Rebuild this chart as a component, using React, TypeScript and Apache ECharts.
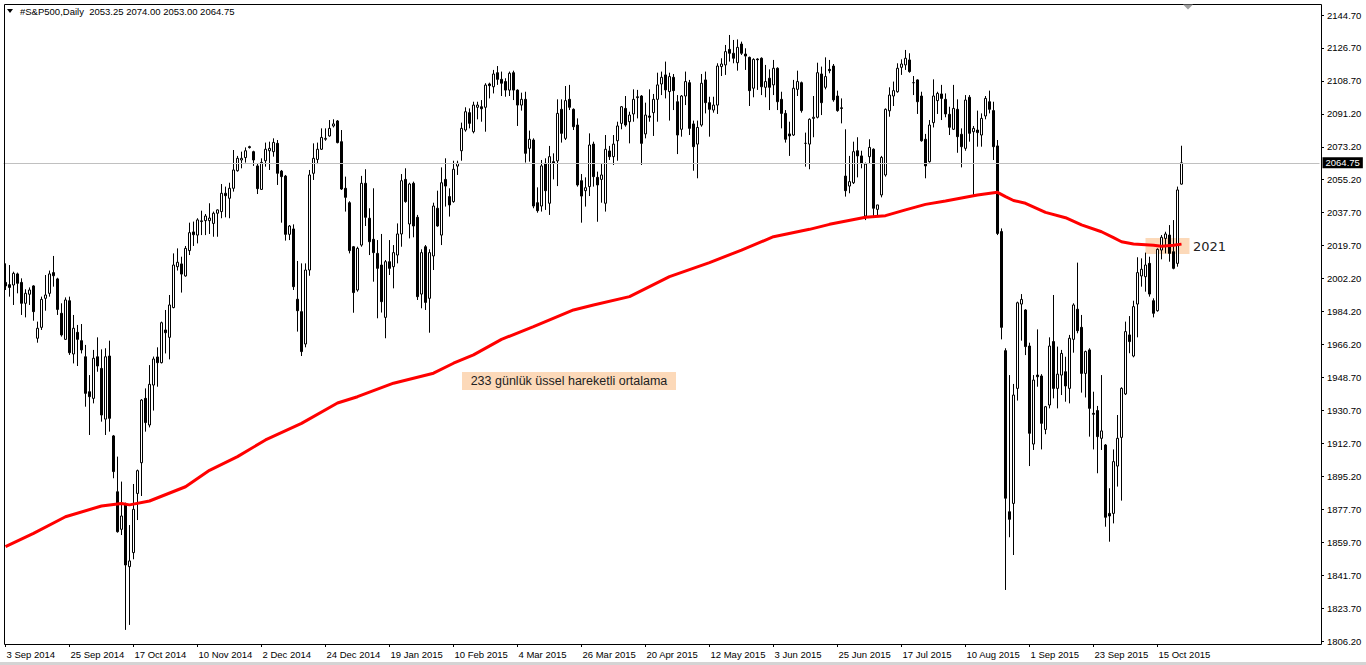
import React, { useEffect, useRef } from "react";
import * as echarts from "echarts";

// Daily candles, each row: [open, high, low, close]
const candles: number[][] = [
  [2000.1, 2010.4, 1996.0, 1998.2], [1998.9, 2009.5, 1992.4, 1997.4], [1998.7, 2005.9, 1987.9, 2005.0], [2004.7, 2005.4, 1994.2, 1999.6],
  [2000.1, 2002.3, 1982.5, 1988.8], [1988.8, 1996.4, 1981.2, 1994.2], [1993.7, 1997.4, 1987.9, 1996.0], [1998.2, 1998.6, 1979.4, 1984.3],
  [1969.9, 1978.9, 1967.5, 1975.3], [1975.8, 1992.4, 1974.4, 1990.9], [1991.5, 2004.1, 1984.8, 1993.3], [1994.2, 2006.5, 1992.4, 2004.7],
  [2005.4, 2014.4, 1997.8, 2003.7], [2002.0, 2002.6, 1982.5, 1985.5], [1983.4, 1988.8, 1970.8, 1971.7], [1969.3, 1992.0, 1969.0, 1990.6],
  [1990.2, 1992.4, 1960.9, 1962.1], [1961.4, 1982.5, 1956.3, 1975.3], [1973.1, 1977.1, 1954.9, 1969.3], [1968.6, 1977.6, 1961.7, 1963.6],
  [1959.9, 1966.3, 1932.9, 1940.1], [1941.0, 1950.0, 1917.6, 1938.3], [1937.4, 1963.6, 1934.7, 1959.1], [1959.9, 1970.4, 1951.8, 1954.9],
  [1953.6, 1963.9, 1924.8, 1928.4], [1926.2, 1964.5, 1917.6, 1959.9], [1960.3, 1968.6, 1919.4, 1926.6], [1917.1, 1917.6, 1894.2, 1897.8],
  [1886.9, 1905.9, 1864.8, 1865.3], [1866.6, 1892.4, 1863.5, 1873.8], [1879.8, 1881.0, 1812.2, 1847.3], [1846.4, 1868.9, 1814.9, 1849.5],
  [1854.0, 1891.1, 1850.4, 1877.4], [1886.0, 1898.9, 1871.6, 1898.3], [1902.6, 1937.0, 1884.6, 1936.5], [1937.4, 1942.8, 1919.4, 1924.3],
  [1923.0, 1955.4, 1921.7, 1945.0], [1944.6, 1960.0, 1930.8, 1958.7], [1959.8, 1965.0, 1943.7, 1956.7], [1956.7, 1978.9, 1956.3, 1978.3],
  [1974.4, 1985.2, 1961.7, 1972.9], [1970.4, 1993.3, 1958.5, 1987.9], [1986.5, 2015.8, 1986.1, 2009.5], [2008.6, 2018.5, 2006.5, 2011.0],
  [2010.1, 2014.0, 1994.6, 2004.6], [2003.6, 2019.8, 2003.2, 2018.5], [2017.3, 2032.4, 2014.9, 2027.0], [2027.4, 2033.0, 2019.8, 2025.9],
  [2025.7, 2034.8, 2021.2, 2033.9], [2033.0, 2038.9, 2025.7, 2033.4], [2033.5, 2037.1, 2025.7, 2036.0], [2033.5, 2042.9, 2026.3, 2034.9],
  [2032.0, 2038.4, 2024.8, 2037.5], [2037.5, 2039.6, 2024.8, 2039.3], [2038.4, 2053.3, 2034.8, 2048.3], [2048.3, 2051.9, 2035.3, 2047.0],
  [2045.6, 2054.0, 2034.8, 2051.0], [2051.0, 2071.7, 2049.2, 2060.9], [2060.5, 2068.5, 2060.0, 2067.2], [2066.3, 2070.8, 2061.8, 2067.2],
  [2067.6, 2073.1, 2064.9, 2071.3], [2073.5, 2074.0, 2072.5, 2073.0], [2070.8, 2071.3, 2063.1, 2066.3], [2063.1, 2064.5, 2047.9, 2050.8],
  [2050.4, 2067.2, 2050.1, 2065.0], [2065.9, 2075.7, 2062.7, 2072.1], [2071.3, 2076.2, 2060.9, 2072.6], [2070.8, 2078.0, 2068.1, 2075.8],
  [2075.3, 2077.1, 2052.8, 2059.1], [2060.3, 2060.9, 2032.4, 2057.3], [2057.6, 2058.2, 2022.7, 2026.1], [2026.1, 2031.1, 2023.0, 2030.6],
  [2029.0, 2031.5, 1996.0, 1997.8], [1991.0, 2011.7, 1973.5, 1984.8], [1984.3, 2010.4, 1960.3, 1962.7], [1966.8, 2010.4, 1965.0, 2006.8],
  [2006.8, 2060.9, 2003.7, 2058.2], [2059.1, 2075.3, 2055.5, 2067.2], [2066.6, 2075.7, 2064.1, 2072.1], [2072.1, 2083.4, 2071.7, 2078.5],
  [2077.5, 2083.4, 2076.7, 2078.0], [2079.3, 2087.9, 2078.9, 2083.4], [2084.7, 2088.3, 2083.9, 2085.8], [2087.4, 2087.9, 2075.3, 2075.7],
  [2076.2, 2082.5, 2050.1, 2050.6], [2051.0, 2057.3, 2038.4, 2046.1], [2043.2, 2044.0, 2015.8, 2017.3], [2019.4, 2019.8, 1983.7, 1994.6],
  [1996.0, 2019.4, 1995.1, 2018.5], [2020.3, 2057.7, 2019.4, 2053.7], [2053.7, 2061.3, 2030.6, 2035.3], [2034.8, 2040.2, 2014.9, 2022.1],
  [2023.4, 2051.0, 2000.5, 2016.2], [2015.8, 2023.0, 1980.7, 2007.7], [2009.5, 2026.3, 1983.8, 1989.7], [1981.2, 2012.2, 1969.9, 2011.3],
  [2011.3, 2023.0, 2004.1, 2007.7], [2008.6, 2020.3, 1996.9, 2016.2], [2014.9, 2032.0, 2010.4, 2026.3], [2026.3, 2058.7, 2019.4, 2055.1],
  [2055.8, 2061.8, 2043.2, 2043.8], [2031.7, 2054.0, 2023.9, 2053.3], [2053.7, 2054.6, 2024.5, 2030.6], [2035.3, 2036.6, 1990.6, 1992.4],
  [1993.8, 2018.0, 1986.1, 2016.2], [2019.4, 2020.3, 1985.2, 1989.3], [1991.5, 2018.0, 1972.9, 2016.2], [2014.4, 2043.2, 2006.8, 2041.4],
  [2040.2, 2049.7, 2030.2, 2030.6], [2025.7, 2062.3, 2020.3, 2054.0], [2055.8, 2067.2, 2041.1, 2052.2], [2046.5, 2051.0, 2035.7, 2042.0],
  [2043.8, 2065.9, 2043.2, 2061.3], [2063.0, 2065.9, 2058.2, 2064.5], [2071.3, 2086.5, 2065.9, 2083.4], [2082.5, 2094.8, 2081.6, 2092.4],
  [2091.9, 2094.2, 2083.4, 2086.1], [2081.6, 2097.8, 2080.7, 2096.0], [2094.8, 2097.8, 2088.3, 2096.0], [2095.1, 2098.7, 2087.0, 2094.0],
  [2094.8, 2107.8, 2081.6, 2106.8], [2107.4, 2108.1, 2099.6, 2106.5], [2105.9, 2115.0, 2102.3, 2112.8], [2113.5, 2117.1, 2106.9, 2109.9],
  [2109.9, 2114.1, 2100.9, 2107.8], [2108.7, 2110.5, 2100.5, 2104.1], [2104.1, 2114.1, 2100.9, 2113.2], [2113.5, 2114.6, 2098.7, 2104.1],
  [2104.1, 2104.5, 2084.7, 2096.0], [2096.0, 2102.7, 2093.0, 2099.1], [2099.1, 2103.2, 2064.9, 2069.9], [2072.6, 2082.2, 2065.4, 2077.5],
  [2077.1, 2078.0, 2040.2, 2041.4], [2043.2, 2051.5, 2037.8, 2038.9], [2041.4, 2066.3, 2038.4, 2063.1], [2064.5, 2067.2, 2039.3, 2049.7],
  [2042.9, 2073.9, 2036.6, 2068.1], [2065.4, 2069.9, 2055.8, 2064.5], [2065.8, 2099.1, 2052.2, 2091.5], [2093.7, 2099.1, 2075.7, 2080.7],
  [2078.0, 2106.3, 2077.1, 2098.4], [2099.1, 2106.9, 2093.3, 2094.8], [2093.7, 2094.2, 2082.5, 2084.3], [2085.2, 2088.8, 2051.9, 2052.8],
  [2055.1, 2058.7, 2032.4, 2046.8], [2049.7, 2056.9, 2041.1, 2051.3], [2051.9, 2080.7, 2046.8, 2074.4], [2074.9, 2076.2, 2051.9, 2057.3],
  [2056.9, 2060.0, 2032.9, 2052.8], [2055.8, 2064.1, 2043.2, 2058.2], [2042.9, 2079.8, 2038.4, 2072.1], [2071.2, 2073.9, 2066.3, 2068.1],
  [2068.1, 2079.8, 2063.6, 2074.9], [2076.7, 2087.0, 2065.9, 2084.7], [2086.1, 2095.5, 2082.9, 2095.1], [2094.2, 2100.9, 2084.3, 2085.2],
  [2087.0, 2092.4, 2075.3, 2090.6], [2091.2, 2104.5, 2087.0, 2099.1], [2100.0, 2104.2, 2088.8, 2100.5], [2100.9, 2101.4, 2063.6, 2075.3],
  [2080.4, 2097.3, 2078.0, 2090.6], [2090.1, 2104.5, 2087.0, 2089.4], [2091.9, 2102.0, 2079.3, 2099.1], [2099.1, 2113.5, 2087.0, 2106.9],
  [2107.4, 2114.1, 2101.4, 2111.0], [2112.3, 2119.5, 2099.6, 2104.2], [2103.3, 2113.5, 2087.6, 2111.4], [2111.0, 2112.8, 2093.3, 2103.8],
  [2097.8, 2101.4, 2069.5, 2079.8], [2082.9, 2101.4, 2078.9, 2100.9], [2100.9, 2114.1, 2096.0, 2108.7], [2108.1, 2109.6, 2079.8, 2083.4],
  [2085.8, 2087.6, 2060.5, 2073.5], [2074.9, 2087.6, 2056.4, 2083.9], [2085.2, 2112.8, 2084.3, 2107.8], [2109.6, 2114.1, 2091.5, 2097.3],
  [2097.3, 2100.5, 2078.9, 2093.7], [2093.3, 2100.5, 2091.9, 2096.0], [2096.0, 2118.6, 2091.2, 2117.1], [2116.8, 2121.3, 2111.7, 2118.2],
  [2117.7, 2128.5, 2112.3, 2124.9], [2126.1, 2133.9, 2119.5, 2124.0], [2124.0, 2131.2, 2118.6, 2121.3], [2118.9, 2131.5, 2114.6, 2127.2],
  [2129.0, 2130.3, 2123.1, 2124.0], [2123.6, 2126.7, 2115.0, 2122.5], [2121.8, 2122.2, 2095.5, 2103.8], [2105.1, 2121.3, 2100.2, 2120.7],
  [2120.9, 2121.3, 2104.2, 2120.5], [2121.3, 2121.8, 2101.4, 2105.9], [2105.6, 2117.7, 2100.2, 2108.7], [2110.5, 2115.3, 2093.3, 2105.6],
  [2106.9, 2120.4, 2101.4, 2115.9], [2115.9, 2116.4, 2093.3, 2097.8], [2099.1, 2103.2, 2083.4, 2091.5], [2091.5, 2093.3, 2075.7, 2077.5],
  [2080.4, 2087.0, 2068.5, 2079.3], [2079.8, 2109.6, 2079.3, 2105.1], [2104.5, 2114.6, 2100.9, 2108.7], [2108.1, 2108.7, 2091.9, 2093.0],
  [2075.3, 2081.1, 2062.7, 2075.3], [2074.9, 2088.8, 2061.3, 2088.3], [2088.8, 2100.9, 2078.6, 2089.4], [2089.4, 2118.9, 2088.8, 2113.5],
  [2112.8, 2116.8, 2090.6, 2097.3], [2105.6, 2121.8, 2104.5, 2111.4], [2115.3, 2120.4, 2113.2, 2114.6], [2117.1, 2118.2, 2097.8, 2098.8],
  [2100.9, 2103.8, 2092.4, 2093.0], [2094.5, 2099.6, 2086.1, 2094.2], [2057.6, 2082.9, 2046.5, 2049.7], [2052.2, 2068.5, 2048.3, 2054.6],
  [2054.0, 2076.2, 2053.3, 2070.8], [2071.3, 2078.6, 2056.9, 2068.5], [2068.5, 2071.3, 2061.8, 2064.5], [2036.0, 2064.9, 2033.8, 2064.1],
  [2068.1, 2077.5, 2064.1, 2073.1], [2072.1, 2072.6, 2035.6, 2040.2], [2039.6, 2042.0, 2035.6, 2042.0], [2047.4, 2068.5, 2046.1, 2067.7],
  [2058.2, 2094.2, 2057.3, 2093.7], [2092.9, 2105.6, 2089.7, 2101.4], [2100.9, 2108.7, 2095.5, 2103.8], [2103.2, 2118.6, 2102.7, 2115.9],
  [2116.4, 2120.7, 2112.3, 2118.2], [2117.7, 2125.8, 2115.0, 2121.3], [2120.4, 2124.0, 2113.5, 2114.1], [2108.1, 2111.7, 2101.4, 2108.1],
  [2109.6, 2109.9, 2091.2, 2097.8], [2100.9, 2103.2, 2076.2, 2076.7], [2077.5, 2080.4, 2056.4, 2063.1], [2065.4, 2087.9, 2064.9, 2085.2],
  [2086.5, 2109.9, 2083.9, 2100.9], [2098.4, 2103.2, 2091.2, 2102.3], [2102.0, 2106.9, 2087.9, 2099.6], [2099.1, 2102.3, 2089.4, 2091.2],
  [2091.0, 2095.1, 2079.8, 2084.0], [2082.9, 2106.9, 2082.5, 2094.2], [2093.7, 2099.1, 2070.2, 2078.9], [2080.2, 2083.4, 2062.3, 2073.5],
  [2072.6, 2101.4, 2071.3, 2098.7], [2100.2, 2101.4, 2076.2, 2080.7], [2081.6, 2084.7, 2047.4, 2083.4], [2082.5, 2093.0, 2073.5, 2081.1],
  [2079.8, 2091.5, 2073.5, 2088.8], [2090.1, 2100.9, 2088.3, 2099.6], [2097.8, 2103.8, 2091.5, 2093.7], [2093.0, 2097.8, 2066.3, 2073.5],
  [2073.9, 2077.1, 2025.7, 2026.6], [2027.6, 2029.3, 1969.3, 1975.8], [1963.2, 1964.5, 1833.8, 1883.4], [1876.1, 1950.0, 1862.3, 1872.0],
  [1880.6, 1945.2, 1852.7, 1939.2], [1942.8, 1989.7, 1936.2, 1989.1], [1988.4, 1993.8, 1968.6, 1990.9], [1985.2, 1985.6, 1960.8, 1965.4],
  [1965.7, 1967.5, 1900.8, 1918.5], [1912.7, 1950.0, 1909.5, 1947.3], [1950.0, 1974.7, 1943.7, 1949.1], [1949.5, 1950.5, 1909.8, 1923.9],
  [1920.6, 1933.3, 1918.0, 1932.9], [1933.8, 1970.4, 1932.0, 1965.7], [1968.1, 1993.3, 1937.4, 1942.8], [1942.8, 1965.4, 1932.0, 1950.5],
  [1950.0, 1963.6, 1939.2, 1961.7], [1951.8, 1959.9, 1935.6, 1944.1], [1942.8, 1971.7, 1934.7, 1969.9], [1969.3, 1988.8, 1962.1, 1987.9],
  [1985.6, 2010.8, 1972.6, 1974.0], [1975.8, 1982.5, 1940.5, 1950.9], [1950.9, 1963.2, 1937.9, 1962.7], [1963.6, 1964.5, 1916.7, 1932.0],
  [1929.3, 1941.0, 1909.8, 1928.8], [1930.8, 1933.3, 1896.9, 1916.7], [1915.8, 1950.0, 1909.5, 1919.8], [1912.2, 1912.7, 1868.0, 1873.1],
  [1875.2, 1888.8, 1859.9, 1873.8], [1875.2, 1909.8, 1869.8, 1903.2], [1900.8, 1928.4, 1889.7, 1915.8], [1916.3, 1943.4, 1882.1, 1942.8],
  [1939.8, 1978.9, 1939.2, 1973.5], [1971.7, 1981.9, 1961.8, 1968.1], [1960.3, 1990.2, 1959.6, 1987.0], [1988.4, 2013.7, 1970.4, 2005.4],
  [2003.6, 2013.1, 1997.8, 2007.2], [2003.2, 2016.2, 1995.1, 2009.5], [2010.4, 2014.0, 1992.4, 1993.8], [1990.2, 1991.5, 1981.2, 1983.4],
  [1984.8, 2018.5, 1984.3, 2018.0], [2017.6, 2025.7, 2012.6, 2024.5], [2023.9, 2027.5, 2015.8, 2026.3], [2025.7, 2031.1, 2011.3, 2015.8],
  [2016.7, 2033.8, 2007.2, 2007.7], [2010.4, 2051.9, 2008.6, 2050.1], [2053.25, 2074.0, 2053.0, 2064.75],
];

// 233-day EMA: [bar index, value]
const emaPoints: number[][] = [
  [0, 1857.2], [7, 1864.4], [15, 1873.4], [24, 1879.2], [29, 1880.6], [31, 1879.8], [36, 1881.9], [45, 1889.6],
  [51, 1898.5], [58, 1905.9], [65, 1914.9], [74, 1923.9], [83, 1934.9], [88, 1938.3], [97, 1945.6], [107, 1951.0],
  [112, 1956.4], [117, 1960.9], [124, 1969.3], [132, 1976.2], [142, 1985.2], [147, 1987.9], [156, 1992.4], [166, 2003.2],
  [176, 2010.8], [184, 2017.6], [192, 2024.8], [201, 2028.8], [206, 2031.5], [215, 2035.3], [220, 2036.2], [225, 2039.3],
  [230, 2042.3], [235, 2044.1], [243, 2047.4], [248, 2048.8], [250, 2046.5], [252, 2044.4], [255, 2042.9], [260, 2038.0],
  [265, 2035.1], [269, 2031.2], [274, 2027.5], [277, 2024.3], [279, 2022.1], [282, 2020.9], [287, 2020.2], [289, 2019.6],
  [292, 2020.2], [294, 2020.8],
];

const yTickLabels = [
  "1806.20", "1823.70", "1841.70", "1859.70", "1877.70", "1895.20", "1912.70", "1930.70", "1948.70", "1966.20",
  "1984.20", "2002.20", "2019.70", "2037.70", "2055.20", "2073.20", "2091.20", "2108.70", "2126.70", "2144.70",
];
const xTickLabels = [
  "3 Sep 2014", "25 Sep 2014", "17 Oct 2014", "10 Nov 2014", "2 Dec 2014", "24 Dec 2014", "19 Jan 2015",
  "10 Feb 2015", "4 Mar 2015", "26 Mar 2015", "20 Apr 2015", "12 May 2015", "3 Jun 2015", "25 Jun 2015",
  "17 Jul 2015", "10 Aug 2015", "1 Sep 2015", "23 Sep 2015", "15 Oct 2015",
];
const barsPerTick = 16;
const emptyBarsRight = 34;
const lastPrice = 2064.75;
const lastPriceText = "2064.75";
const headerText = "#S&P500,Daily  2053.25 2074.00 2053.00 2064.75";
const emaValueText = "2021";
const noteText = "233 günlük üssel hareketli ortalama";
const emaBoxBars = [285, 296];
const emaBoxValues = [2015.5, 2024.1];

const FONT = "Liberation Sans, Arial, sans-serif";

export default function App() {
  const ref = useRef<HTMLDivElement>(null);
  useEffect(() => {
    if (!ref.current) return;
    const chart = echarts.init(ref.current, null, { renderer: "svg" });
    const total = candles.length + emptyBarsRight;
    const categories = Array.from({ length: total }, (_, i) => String(i));
    const yMin = parseFloat(yTickLabels[0]);
    const yMax = parseFloat(yTickLabels[yTickLabels.length - 1]);
    const yStep = (yMax - yMin) / (yTickLabels.length - 1);
    const showTick = (i: number) => i % barsPerTick === 0 && i / barsPerTick < xTickLabels.length;

    chart.setOption({
      animation: false,
      backgroundColor: "#ffffff",
      grid: { left: 3.5, top: 15, width: 1316, height: 626 },
      xAxis: {
        type: "category",
        data: categories,
        boundaryGap: true,
        offset: 3,
        axisLine: { show: false },
        axisTick: {
          show: true,
          alignWithLabel: true,
          interval: (i: number) => showTick(i),
          length: 3,
          lineStyle: { color: "#000", width: 1 },
        },
        axisLabel: {
          interval: (i: number) => showTick(i),
          formatter: (_v: string, i: number) => xTickLabels[i / barsPerTick] ?? "",
          align: "left",
          margin: 5,
          padding: [0, 0, 0, 1],
          color: "#000",
          fontSize: 9.5,
          fontFamily: FONT,
        },
        splitLine: { show: false },
      },
      yAxis: {
        type: "value",
        position: "right",
        min: yMin,
        max: yMax,
        interval: yStep,
        offset: 1.5,
        scale: true,
        axisLine: { show: false },
        axisTick: { show: true, length: 3, lineStyle: { color: "#000", width: 1 } },
        axisLabel: {
          margin: 6,
          color: "#000",
          fontSize: 9.5,
          fontFamily: FONT,
          formatter: (v: number) => {
            const k = Math.round((v - yMin) / yStep);
            return Math.abs(v - (yMin + k * yStep)) < 0.05 && yTickLabels[k] ? yTickLabels[k] : "";
          },
        },
        splitLine: { show: false },
      },
      series: [
        {
          type: "line",
          data: [],
          z: 1,
          silent: true,
          markArea: {
            silent: true,
            itemStyle: { color: "#fcd9b9" },
            data: [[
              { xAxis: String(emaBoxBars[0]), yAxis: emaBoxValues[1] },
              { xAxis: String(emaBoxBars[1]), yAxis: emaBoxValues[0] },
            ]],
          },
          markLine: {
            silent: true,
            symbol: ["none", "none"],
            lineStyle: { color: "#c0c0c0", width: 1, type: "solid" },
            label: {
              show: true,
              position: "end",
              distance: 3,
              formatter: () => lastPriceText,
              backgroundColor: "#000",
              color: "#fff",
              padding: [1, 3, 0, 3],
              fontSize: 9.5,
              fontFamily: FONT,
            },
            data: [{ yAxis: lastPrice }],
          },
        },
        {
          type: "candlestick",
          data: candles.map(([o, h, l, c]) => [o, c, l, h]),
          barWidth: 2,
          z: 3,
          itemStyle: {
            color: "#ffffff",
            color0: "#000000",
            borderColor: "#000000",
            borderColor0: "#000000",
            borderWidth: 1,
          },
        },
        {
          type: "line",
          data: emaPoints,
          symbol: "none",
          showSymbol: false,
          z: 5,
          lineStyle: { color: "#ff0000", width: 3 },
        },
      ],
      graphic: [
        {
          type: "rect",
          shape: { x: 4.5, y: 4.5, width: 1317, height: 640 },
          style: { fill: "none", stroke: "#000", lineWidth: 1 },
          silent: true,
          z: 10,
        },
        {
          type: "rect",
          shape: { x: 0, y: 662, width: 1366, height: 3 },
          style: { fill: "#d4d4d4" },
          silent: true,
          z: 10,
        },
        {
          type: "polygon",
          shape: { points: [[7, 9], [13, 9], [10, 13]] },
          style: { fill: "#000" },
          z: 10,
        },
        {
          type: "text",
          x: 20,
          y: 11,
          style: { text: headerText, fill: "#000", font: `9.5px ${FONT}`, verticalAlign: "middle" },
          z: 10,
        },
        {
          type: "polygon",
          shape: { points: [[1183, 4.5], [1193, 4.5], [1188, 9.5]] },
          style: { fill: "#a0a0a0" },
          z: 10,
        },
        {
          type: "text",
          x: 1193,
          y: 246,
          style: { text: emaValueText, fill: "#222", font: `13px DejaVu Sans, sans-serif`, verticalAlign: "middle" },
          z: 10,
        },
        {
          type: "rect",
          shape: { x: 462, y: 372, width: 214, height: 18 },
          style: { fill: "#fcd9b9" },
          z: 8,
        },
        {
          type: "text",
          x: 569,
          y: 381,
          style: {
            text: noteText,
            fill: "#222",
            font: `12.5px ${FONT}`,
            align: "center",
            verticalAlign: "middle",
          },
          z: 9,
        },
      ],
    });
    return () => chart.dispose();
  }, []);
  return (
    <div
      ref={ref}
      style={{ position: "fixed", left: 0, top: 0, width: 1366, height: 665, background: "#fff" }}
    />
  );
}
